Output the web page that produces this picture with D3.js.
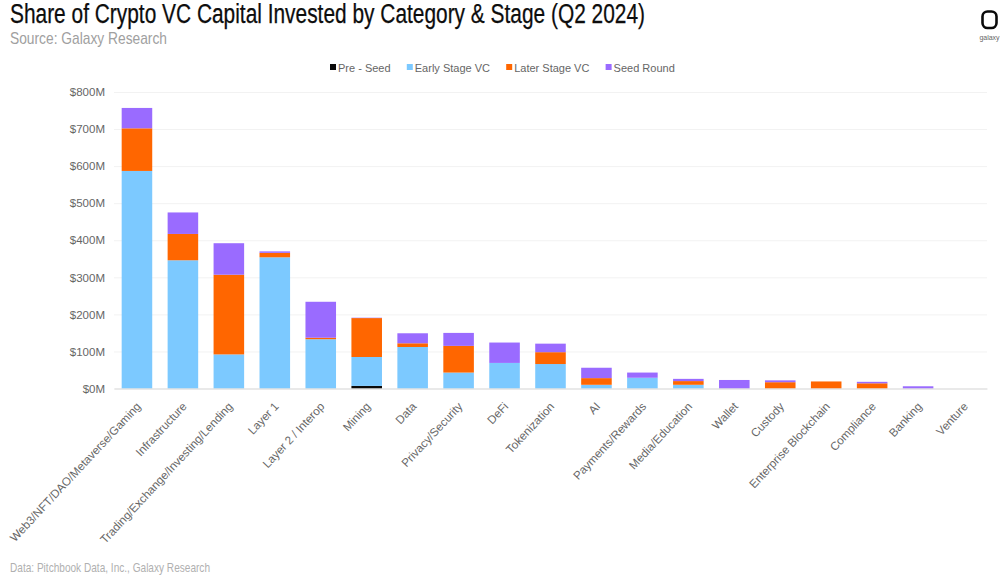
<!DOCTYPE html>
<html>
<head>
<meta charset="utf-8">
<script src="https://cdn.jsdelivr.net/npm/d3@7"></script>
<style>
  html, body { margin: 0; padding: 0; background: #fff; }
  svg { display: block; }
  text { font-family: "Liberation Sans", Arial, sans-serif; }
</style>
</head>
<body>
<div id="chart"></div>
<script>
const categories = ["Web3/NFT/DAO/Metaverse/Gaming", "Infrastructure", "Trading/Exchange/Investing/Lending",
    "Layer 1", "Layer 2 / Interop", "Mining", "Data", "Privacy/Security", "DeFi", "Tokenization", "AI",
    "Payments/Rewards", "Media/Education", "Wallet", "Custody", "Enterprise Blockchain", "Compliance",
    "Banking", "Venture"];

const stages = ["Pre - Seed", "Early Stage VC", "Later Stage VC", "Seed Round"];
const stageColors = ["#0a0a0a", "#7cc9ff", "#ff6600", "#9a6bff"];

// values in $M
const preSeed = [0, 0, 0, 0, 0, 7, 0, 0, 0, 0, 0, 0, 0, 0, 0, 0, 0, 0, 0];
const earlyStage = [587, 346, 92, 354, 133, 78, 112, 43, 69, 66, 10, 29, 10, 0, 0, 0, 0, 0, 0];
const laterStage = [115, 71, 215, 12, 4, 105, 10, 72, 0, 32, 18, 0, 10, 0, 17, 19, 14, 0, 0];
const seedRound = [55, 58, 85, 4, 97, 1, 27, 35, 55, 23, 28, 14, 6, 23, 5, 0, 4, 6, 0];
const yTicks = [0, 100, 200, 300, 400, 500, 600, 700, 800];

const width = 1003, height = 582;
const margin = {top: 92, right: 16, bottom: 193.5, left: 114};

const rows = categories.map((c, i) => ({
    category: c,
    "Pre - Seed": preSeed[i],
    "Early Stage VC": earlyStage[i],
    "Later Stage VC": laterStage[i],
    "Seed Round": seedRound[i]
}));

const svg = d3.select("#chart").append("svg")
    .attr("width", width)
    .attr("height", height);

const x = d3.scaleBand()
    .domain(categories)
    .range([margin.left, width - margin.right])
    .paddingInner(0.335)
    .paddingOuter(0.167);

const y = d3.scaleLinear()
    .domain([0, 800])
    .range([height - margin.bottom, margin.top]);

const color = d3.scaleOrdinal().domain(stages).range(stageColors);

// y axis + grid
const yAxis = svg.append("g")
    .attr("transform", `translate(${margin.left},0)`)
    .call(d3.axisLeft(y).tickValues(yTicks).tickFormat(d => `$${d}M`)
        .tickSize(-(width - margin.left - margin.right)).tickPadding(9));
yAxis.select(".domain").remove();
yAxis.selectAll("line").attr("stroke", "#f2f2f2");
yAxis.selectAll("text").style("font-size", "11.5px").attr("fill", "#666");

// bars
const stacked = d3.stack().keys(stages)(rows);
svg.append("g").selectAll("g")
    .data(stacked).join("g")
    .attr("fill", d => color(d.key))
    .selectAll("rect")
    .data(d => d).join("rect")
    .attr("x", d => x(d.data.category))
    .attr("y", d => y(d[1]))
    .attr("width", x.bandwidth())
    .attr("height", d => y(d[0]) - y(d[1]));

// x axis
const xAxis = svg.append("g")
    .attr("transform", `translate(0,${height - margin.bottom})`)
    .call(d3.axisBottom(x).tickSize(0));
xAxis.select(".domain").attr("stroke", "#d9d9d9").attr("stroke-width", 1);
xAxis.selectAll("text")
    .style("font-size", "11.6px")
    .attr("fill", "#666")
    .attr("text-anchor", "end")
    .attr("x", 0).attr("y", 0).attr("dy", 0)
    .attr("transform", "translate(4.5,18.5) rotate(-47)");

// legend
let legendX = 330;
stages.forEach(s => {
    svg.append("rect").attr("x", legendX).attr("y", 64).attr("width", 6).attr("height", 6).attr("fill", color(s));
    const t = svg.append("text").attr("x", legendX + 8).attr("y", 71.5)
        .style("font-size", "11px").attr("fill", "#666").text(s);
    legendX += 8 + t.node().getComputedTextLength() + 16.2;
});

// headings
svg.append("text").attr("x", 10).attr("y", 23)
    .style("font-size", "27px").attr("fill", "#0d0d0d")
    .attr("stroke", "#0d0d0d").attr("stroke-width", 0.25)
    .attr("textLength", 635).attr("lengthAdjust", "spacingAndGlyphs")
    .text("Share of Crypto VC Capital Invested by Category & Stage (Q2 2024)");
svg.append("text").attr("x", 10).attr("y", 44)
    .style("font-size", "17px").attr("fill", "#a0a0a0")
    .attr("textLength", 157).attr("lengthAdjust", "spacingAndGlyphs")
    .text("Source: Galaxy Research");
svg.append("text").attr("x", 10).attr("y", 572)
    .style("font-size", "13.5px").attr("fill", "#b0b0b0")
    .attr("textLength", 200).attr("lengthAdjust", "spacingAndGlyphs")
    .text("Data: Pitchbook Data, Inc., Galaxy Research");

// logo
svg.append("rect").attr("x", 982.5).attr("y", 11.5).attr("width", 14).attr("height", 16.5)
    .attr("rx", 5).attr("fill", "#fff").attr("stroke", "#0a0a0a").attr("stroke-width", 2.6);
svg.append("text").attr("x", 989.5).attr("y", 40).attr("text-anchor", "middle")
    .style("font-size", "7px").attr("fill", "#666").text("galaxy");
</script>
</body>
</html>
